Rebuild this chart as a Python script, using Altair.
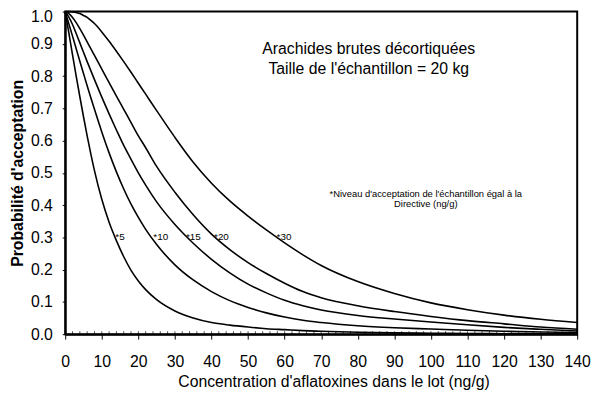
import altair as alt
import pandas as pd

# Concentration grid (ng/g) at which the curves were read
conc = [0, 1, 2, 3, 4, 5, 6, 7, 8, 10, 12, 14, 16, 18, 20, 22, 25, 30, 35, 40, 45,
        50, 55, 60, 65, 70, 80, 90, 100, 110, 120, 130, 140]

# Probability of acceptance for each acceptance level
p5 = [1.0, 0.933, 0.866, 0.80, 0.736, 0.674, 0.615, 0.559, 0.507, 0.418, 0.347, 0.29,
      0.24, 0.198, 0.165, 0.138, 0.107, 0.072, 0.05, 0.036, 0.028, 0.022, 0.017, 0.014,
      0.011, 0.009, 0.006, 0.004, 0.003, 0.002, 0.0015, 0.001, 0.001]
p10 = [1.0, 0.962, 0.924, 0.885, 0.846, 0.808, 0.77, 0.733, 0.697, 0.627, 0.562, 0.503,
       0.45, 0.403, 0.362, 0.325, 0.278, 0.215, 0.168, 0.132, 0.104, 0.083, 0.066, 0.053,
       0.043, 0.036, 0.026, 0.02, 0.016, 0.012, 0.009, 0.0065, 0.005]
p15 = [1.0, 0.983, 0.96, 0.932, 0.903, 0.874, 0.845, 0.817, 0.789, 0.735, 0.683, 0.633,
       0.585, 0.542, 0.50, 0.462, 0.41, 0.34, 0.282, 0.232, 0.19, 0.155, 0.128, 0.105,
       0.088, 0.075, 0.058, 0.047, 0.038, 0.029, 0.021, 0.015, 0.01]
p20 = [1.0, 0.994, 0.982, 0.966, 0.947, 0.927, 0.906, 0.885, 0.864, 0.822, 0.78, 0.738,
       0.697, 0.656, 0.615, 0.578, 0.52, 0.44, 0.37, 0.31, 0.262, 0.222, 0.188, 0.158,
       0.132, 0.113, 0.088, 0.07, 0.055, 0.042, 0.032, 0.022, 0.015]
p30 = [1.0, 1.0, 0.999, 0.997, 0.994, 0.988, 0.982, 0.973, 0.963, 0.937, 0.908, 0.877,
       0.845, 0.812, 0.778, 0.744, 0.693, 0.61, 0.533, 0.468, 0.413, 0.366, 0.323, 0.283,
       0.246, 0.213, 0.163, 0.126, 0.097, 0.076, 0.059, 0.046, 0.036]

levels = ["5", "10", "15", "20", "30"]

# Curve labels
label_text = ["*5", "*10", "*15", "*20", "*30"]
label_x = [13.7, 24.1, 33.0, 40.7, 57.8]
label_y = [0.30, 0.30, 0.30, 0.30, 0.30]

# Annotations
head_text = ["Arachides brutes décortiquées", "Taille de l'échantillon = 20 kg"]
head_x = [83, 83]
head_y = [0.869, 0.808]
note_text = ["*Niveau d'acceptation de l'échantillon égal à la", "Directive (ng/g)"]
note_x = [98.6, 98.6]
note_y = [0.425, 0.394]

x_major = list(range(0, 141, 10))
x_minor = list(range(0, 141, 2))
y_ticks = [round(i * 0.1, 1) for i in range(11)]

rows = []
for lvl, vals in zip(levels, [p5, p10, p15, p20, p30]):
    for c, v in zip(conc, vals):
        rows.append({"conc": c, "p": v, "niveau": lvl})
df = pd.DataFrame(rows)

FONT = "Liberation Sans"
xscale = alt.Scale(domain=[0, 140], nice=False, zero=False)
yscale = alt.Scale(domain=[0, 1], nice=False)

x_axis = alt.Axis(values=x_major, format="d", tickSize=5, labelPadding=15,
                  labelFontSize=16, labelOverlap=False, labelFlush=False,
                  title="Concentration d'aflatoxines dans le lot (ng/g)",
                  titleFontSize=16, titleFontWeight="normal", titleX=272, titleY=53,
                  titleBaseline="alphabetic", titleAlign="center")
y_axis = alt.Axis(values=y_ticks, format=".1f", tickSize=3, labelPadding=10,
                  labelFontSize=16, labelOverlap=False, labelFlush=False,
                  labelOffset={"condition": {"test": "datum.value == 1", "value": 5}, "value": 0},
                  title="Probabilité d'acceptation", titleFontSize=16,
                  titleFontWeight="bold", titleX=-43, titleY=163.5,
                  titleBaseline="alphabetic", titleAlign="center", titleAngle=270)

lines = alt.Chart(df).mark_line(color="black", strokeWidth=1.6, interpolate="monotone").encode(
    x=alt.X("conc:Q", scale=xscale, axis=x_axis),
    y=alt.Y("p:Q", scale=yscale, axis=y_axis),
    detail="niveau:N",
)

minor_df = pd.DataFrame({"x": x_minor, "y": [0] * len(x_minor)})
minor = alt.Chart(minor_df).mark_tick(color="black", size=3, thickness=1, yOffset=-1.5).encode(
    x=alt.X("x:Q", scale=xscale, axis=x_axis),
    y=alt.Y("y:Q", scale=yscale, axis=y_axis),
)

lab_df = pd.DataFrame({"x": label_x, "y": label_y, "t": label_text})
labels = alt.Chart(lab_df).mark_text(align="left", baseline="middle", fontSize=10,
                                     font=FONT, color="black").encode(
    x=alt.X("x:Q", scale=xscale, axis=x_axis),
    y=alt.Y("y:Q", scale=yscale, axis=y_axis),
    text="t:N",
)

head_df = pd.DataFrame({"x": head_x, "y": head_y, "t": head_text})
head = alt.Chart(head_df).mark_text(align="center", baseline="alphabetic", fontSize=16,
                                    font=FONT, color="black").encode(
    x=alt.X("x:Q", scale=xscale, axis=x_axis),
    y=alt.Y("y:Q", scale=yscale, axis=y_axis),
    text="t:N",
)

note_df = pd.DataFrame({"x": note_x, "y": note_y, "t": note_text})
note = alt.Chart(note_df).mark_text(align="center", baseline="alphabetic", fontSize=9.5,
                                    font=FONT, color="black").encode(
    x=alt.X("x:Q", scale=xscale, axis=x_axis),
    y=alt.Y("y:Q", scale=yscale, axis=y_axis),
    text="t:N",
)

chart = alt.layer(lines, minor, labels, head, note).properties(
    width=519, height=327,
    padding={"left": 58, "top": 1, "right": 14, "bottom": 58},
    autosize=alt.AutoSizeParams(type="none"),
    background="white",
).configure_view(stroke="black", strokeWidth=2).configure_axis(
    grid=False, domainColor="black", domainWidth=2, tickColor="black",
    labelColor="black", titleColor="black", labelFont=FONT, titleFont=FONT,
)

chart.save("out.html", embed_options={"renderer": "svg", "actions": False})
